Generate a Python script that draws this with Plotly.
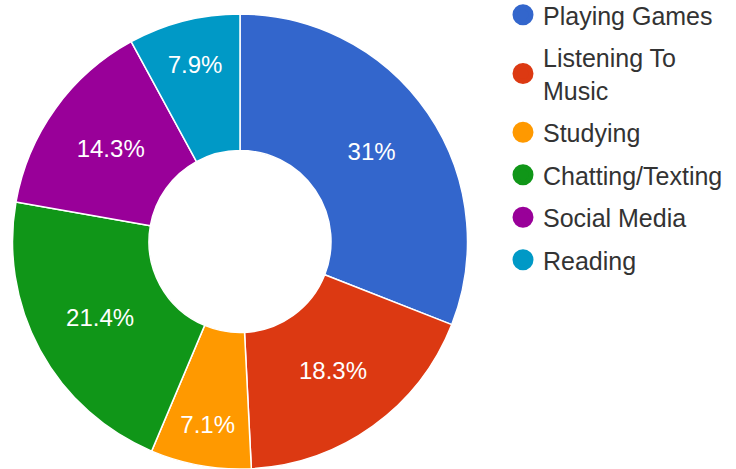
import plotly.graph_objects as go

categories = ["Playing Games", "Listening To Music", "Studying", "Chatting/Texting", "Social Media", "Reading"]
legend_labels = ["Playing Games", "Listening To<br>Music", "Studying", "Chatting/Texting", "Social Media", "Reading"]
counts = [39, 23, 9, 27, 18, 10]
colors = ["#3366cc", "#dc3912", "#ff9900", "#109618", "#990099", "#0099c6"]

total = sum(counts)
pct_text = [f"{round(c / total * 100, 1):g}%" for c in counts]

W, H = 736, 469
fig = go.Figure()
fig.add_trace(go.Pie(
    labels=categories, values=counts, text=pct_text,
    textinfo="text", textposition="inside", insidetextorientation="horizontal",
    textfont=dict(family="Liberation Sans, Arial", size=24, color="white"),
    marker=dict(colors=colors, line=dict(color="white", width=1.5)),
    hole=0.40, sort=False, direction="clockwise", rotation=0,
    showlegend=False, hoverinfo="label+percent",
    domain=dict(x=[12 / W, 468 / W], y=[0, 1 - 14 / H]),
))
for i, (lab, col) in enumerate(zip(legend_labels, colors)):
    fig.add_trace(go.Scatter(
        x=[None], y=[None], mode="markers", name=lab, legendgroup=f"g{i}",
        marker=dict(color=col, size=16, symbol="circle", line=dict(color=col, width=5)),
        showlegend=True,
    ))

fig.update_layout(
    width=W, height=H, margin=dict(l=0, r=0, t=0, b=0, autoexpand=False),
    paper_bgcolor="white", plot_bgcolor="white",
    xaxis=dict(visible=False), yaxis=dict(visible=False),
    legend=dict(x=503 / W, y=1.017, xanchor="left", yanchor="top",
                maxheight=1000,
                font=dict(family="Liberation Sans, Arial", size=25, color="#333333"),
                tracegroupgap=7, itemwidth=30, bgcolor="rgba(0,0,0,0)"),
)
fig.write_html("out.html")
